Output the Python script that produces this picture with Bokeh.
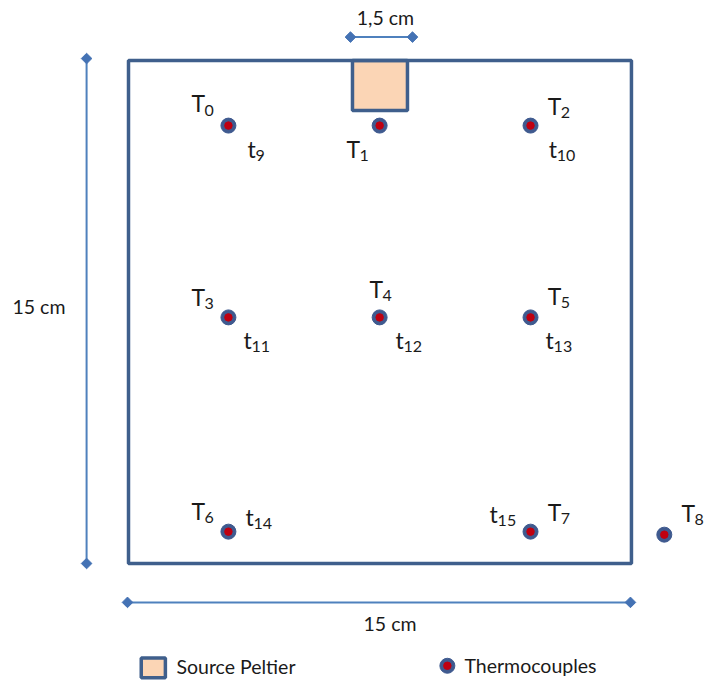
from bokeh.plotting import figure
from bokeh.core.properties import value
from bokeh.embed import file_html
from bokeh.resources import INLINE

# Geometry in cm (origin = lower-left corner of the plate)
plate_size = 15.0
peltier_left, peltier_right, peltier_bottom, peltier_top = 6.68, 8.32, 13.51, 15.0

# Thermocouple positions, cm
sensor_names = ["T", "T", "T", "T", "T", "T", "T", "T", "T"]
sensor_subs = ["0", "1", "2", "3", "4", "5", "6", "7", "8"]
sensor_x = [2.98, 7.49, 11.99, 2.98, 7.49, 11.99, 2.98, 11.99, 15.98]
sensor_y = [13.06, 13.06, 13.06, 7.34, 7.34, 7.34, 0.95, 0.95, 0.86]

# Label anchors, cm
T_x = [1.88, 6.50, 12.50, 1.88, 7.19, 12.50, 1.88, 12.50, 16.49]
T_y = [13.72, 12.37, 13.65, 7.96, 8.20, 7.99, 1.58, 1.55, 1.52]
t_names = ["t", "t", "t", "t", "t", "t", "t"]
t_subs = ["9", "10", "11", "12", "13", "14", "15"]
t_x = [3.55, 12.53, 3.43, 7.96, 12.44, 3.49, 10.77]
t_y = [12.37, 12.37, 6.68, 6.68, 6.68, 1.40, 1.49]

# Dimension arrows, cm
dim_x0 = [6.62, -1.25, -0.03]
dim_x1 = [8.47, -1.25, 14.97]
dim_y0 = [15.70, 15.06, -1.16]
dim_y1 = [15.70, 0.0, -1.16]

# Free texts, cm
note_text = ["1,5 cm", "15 cm", "15 cm", "Source Peltier", "Thermocouples"]
note_x = [7.66, -3.46, 7.80, 1.43, 10.02]
note_y = [16.28, 7.67, -1.79, -3.08, -3.05]
note_align = ["center", "left", "center", "left", "left"]

# Legend swatches, cm
swatch_left, swatch_right, swatch_bottom, swatch_top = 0.38, 1.10, -3.41, -2.82
legend_dot_x = [9.51]
legend_dot_y = [-3.05]

PX_PER_CM = 33.53
W, H = 704, 682
x_lo = (0 - 128) / PX_PER_CM
y_hi = (563 - 0) / PX_PER_CM

p = figure(width=W, height=H, output_backend="svg", toolbar_location=None,
           x_range=(x_lo, x_lo + W / PX_PER_CM), y_range=(y_hi - H / PX_PER_CM, y_hi),
           min_border=0, outline_line_color=None, background_fill_color="white")
p.xaxis.visible = False
p.yaxis.visible = False
p.grid.visible = False

BOX = "#3f5f8c"
DIM = "#4f81bd"
FONT = value("Lato")
DARK = "#1a1a1a"

# plate and Peltier source
p.quad(left=[peltier_left], right=[peltier_right], bottom=[peltier_bottom], top=[peltier_top],
       fill_color="#fbd5b5", line_color=BOX, line_width=3.5)
p.quad(left=[0], right=[plate_size], bottom=[0], top=[plate_size],
       fill_color=None, line_color=BOX, line_width=3.5)

# dimension lines
p.segment(dim_x0, dim_y0, dim_x1, dim_y1, line_color=DIM, line_width=2)
p.scatter(dim_x0 + dim_x1, dim_y0 + dim_y1, marker="square", size=7.5, angle=0.785,
          color="#4472b4")

# thermocouples
dots_x = sensor_x + legend_dot_x
dots_y = sensor_y + legend_dot_y
p.scatter(dots_x, dots_y, size=15, color="#3f5a8f")
p.scatter(dots_x, dots_y, size=7.5, color="#c00010")

# legend swatch
p.quad(left=[swatch_left], right=[swatch_right], bottom=[swatch_bottom], top=[swatch_top],
       fill_color="#fbd5b5", line_color=BOX, line_width=3.5)

# main letters
p.text(T_x, T_y, text=sensor_names, text_font=FONT, text_font_size="23px",
       text_color=DARK, text_align="left", text_baseline="middle")
p.text(t_x, t_y, text=t_names, text_font=FONT, text_font_size="23px",
       text_color=DARK, text_align="left", text_baseline="middle")

# subscripts sit just after the main letter and a little lower
p.text(T_x, T_y, text=sensor_subs, x_offset=13, y_offset=7, text_font=FONT,
       text_font_size="16px", text_color=DARK, text_align="left", text_baseline="middle")
p.text(t_x, t_y, text=t_subs, x_offset=8, y_offset=7, text_font=FONT,
       text_font_size="16px", text_color=DARK, text_align="left", text_baseline="middle")

p.text(note_x, note_y, text=note_text, text_align=note_align, text_font=FONT,
       text_font_size="19.5px", text_color=DARK, text_baseline="middle")

open("out.html", "w").write(file_html(p, INLINE))
